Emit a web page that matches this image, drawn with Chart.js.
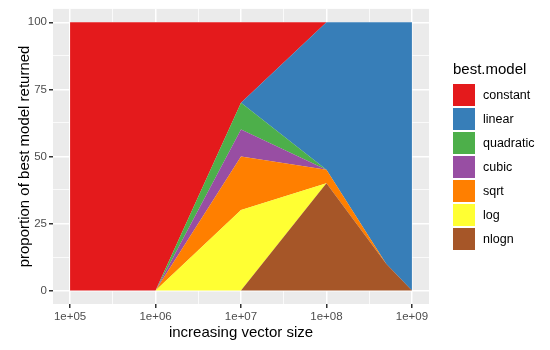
<!DOCTYPE html>
<html>
<head>
<meta charset="utf-8">
<script src="https://cdn.jsdelivr.net/npm/chart.js@4.4.0/dist/chart.umd.min.js"></script>
<style>
body{margin:0;background:#fff;font-family:"Liberation Sans",Arial,sans-serif;}
#wrap{position:relative;width:550px;height:350px;}
#legend{position:absolute;left:453px;top:60px;}
#legend .title{font-size:15px;line-height:18px;color:#000;height:24px;}
#legend .item{position:relative;height:24px;}
#legend .box{position:absolute;left:0;top:0;width:22px;height:22px;}
#legend .lab{position:absolute;left:30px;top:0;line-height:22px;font-size:12.5px;color:#000;white-space:nowrap;}
</style>
</head>
<body>
<div id="wrap">
  <canvas id="myChart" width="550" height="350"></canvas>
  <div id="legend"><div class="title">best.model</div></div>
</div>
<script>
// vector sizes on the x axis
const sizes = [1e5, 1e6, 1e7, 1e8, 5e8, 1e9];
// legend order (top of stack first)
const models = ['constant', 'linear', 'quadratic', 'cubic', 'sqrt', 'log', 'nlogn'];
const colors = ['#E41A1C', '#377EB8', '#4DAF4A', '#984EA3', '#FF7F00', '#FFFF33', '#A65628'];
// proportion of best model returned, per size
const constant  = [100, 100, 30, 0, 0, 0];
const linear    = [0, 0, 0, 55, 90, 100];
const quadratic = [0, 0, 10, 0, 0, 0];
const cubic     = [0, 0, 10, 0, 0, 0];
const sqrt      = [0, 0, 20, 5, 0, 0];
const log       = [0, 0, 30, 0, 0, 0];
const nlogn     = [0, 0, 0, 40, 10, 0];
const xTicks = [1e5, 1e6, 1e7, 1e8, 1e9];
const yTicks = [0, 25, 50, 75, 100];

const series = [constant, linear, quadratic, cubic, sqrt, log, nlogn];

// minor grid halfway between the major ones
const xMinor = [];
for (let i = 0; i < xTicks.length - 1; i++) xMinor.push(Math.sqrt(xTicks[i] * xTicks[i + 1]));
const yMinor = [];
for (let i = 0; i < yTicks.length - 1; i++) yMinor.push((yTicks[i] + yTicks[i + 1]) / 2);

function mkTicks(major, minor) {
    return major.map(v => ({value: v, minor: false}))
        .concat(minor.map(v => ({value: v, minor: true})))
        .sort((a, b) => a.value - b.value);
}

// bottom of the stack first for chart.js
const datasets = [];
for (let k = models.length - 1; k >= 0; k--) {
    datasets.push({
        label: models[k],
        data: sizes.map((x, i) => ({x: x, y: series[k][i]})),
        backgroundColor: colors[k],
        borderColor: colors[k],
        borderWidth: 0,
        pointRadius: 0,
        tension: 0,
        fill: datasets.length === 0 ? 'origin' : '-1'
    });
}

const panelBg = {
    id: 'panelBg',
    beforeDraw(chart) {
        const {ctx, chartArea: a} = chart;
        ctx.save();
        ctx.fillStyle = '#EBEBEB';
        ctx.fillRect(a.left, a.top, a.right - a.left, a.bottom - a.top);
        ctx.restore();
    }
};

const gridOpts = {
    color: '#FFFFFF',
    lineWidth: c => (c.tick && c.tick.minor) ? 0.75 : 1.5,
    tickColor: c => (c.tick && c.tick.minor) ? 'rgba(0,0,0,0)' : '#333333',
    tickLength: 4,
    drawOnChartArea: true
};

const ctx = document.getElementById('myChart');
new Chart(ctx, {
    type: 'line',
    data: {datasets: datasets},
    plugins: [panelBg],
    options: {
        responsive: false,
        animation: false,
        layout: {padding: {top: 6, right: 121, left: 0, bottom: 0}},
        plugins: {legend: {display: false}, tooltip: {enabled: false}},
        scales: {
            x: {
                type: 'logarithmic',
                min: Math.pow(10, 4.8),
                max: Math.pow(10, 9.2),
                border: {display: false},
                grid: gridOpts,
                afterBuildTicks: s => { s.ticks = mkTicks(xTicks, xMinor); },
                afterFit: s => { s.height = 46; },
                ticks: {
                    autoSkip: false, maxRotation: 0, padding: 2,
                    color: '#4D4D4D',
                    font: {family: '"Liberation Sans", Arial, sans-serif', size: 11.5},
                    callback: (v, i, t) => t[i].minor ? '' : '1e+' + String(Math.round(Math.log10(v))).padStart(2, '0')
                },
                title: {
                    display: true, text: 'increasing vector size', color: '#000',
                    font: {family: '"Liberation Sans", Arial, sans-serif', size: 15},
                    padding: {top: 0, bottom: 8}
                }
            },
            y: {
                stacked: true,
                min: -5,
                max: 105,
                border: {display: false},
                grid: gridOpts,
                afterBuildTicks: s => { s.ticks = mkTicks(yTicks, yMinor); },
                afterFit: s => { s.width = 53; },
                ticks: {
                    autoSkip: false, padding: 2,
                    color: '#4D4D4D',
                    font: {family: '"Liberation Sans", Arial, sans-serif', size: 11.5},
                    callback: (v, i, t) => t[i].minor ? '' : String(v)
                },
                title: {
                    display: true, text: 'proportion of best model returned', color: '#000',
                    font: {family: '"Liberation Sans", Arial, sans-serif', size: 15},
                    padding: {top: 16, bottom: 0}
                }
            }
        }
    }
});

// legend on the right, same order as ggplot
const leg = document.getElementById('legend');
models.forEach((m, k) => {
    const it = document.createElement('div');
    it.className = 'item';
    it.innerHTML = '<div class="box" style="background:' + colors[k] + '"></div><div class="lab">' + m + '</div>';
    leg.appendChild(it);
});
</script>
</body>
</html>
